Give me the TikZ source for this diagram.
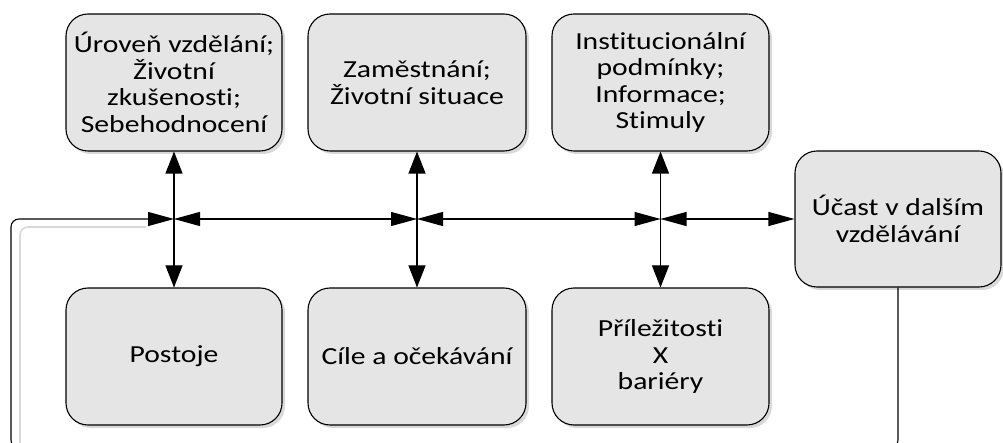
\documentclass[tikz,border=0pt]{standalone}
\usepackage{fontspec}
\setmainfont{Carlito}[FakeStretch=1.21, Ligatures=NoCommon]
\usetikzlibrary{arrows.meta,shadows}

\tikzset{
  card/.style={rectangle, draw=black, line width=1.1pt, fill=gray!20,
    rounded corners=22pt, align=center, inner sep=4pt,
    minimum width=216pt, minimum height=137pt,
    font=\fontsize{24.5}{26.5}\selectfont,
    drop shadow={shadow xshift=3pt, shadow yshift=-3pt, fill=black!25, opacity=.6},
    append after command={
      [draw=white, line width=1.6pt, rounded corners=19pt]
      ([shift={(3pt,-3pt)}]\tikzlastnode.north west) rectangle
      ([shift={(-3pt,3pt)}]\tikzlastnode.south east)
    }},
  link/.style={draw=black, line width=1.1pt},
  linkshadow/.style={draw=black!15, line width=1.4pt},
}

\begin{document}
\begin{tikzpicture}[x=1pt,y=-1pt]
\useasboundingbox (0,0) rectangle (1003,443);

% upper row: influencing factors
\node[card] (b1) at (174,82.5) {Úroveň vzdělání;\\Životní\\zkušenosti;\\Sebehodnocení};
\node[card, minimum width=218pt] (b2) at (417,82.5) {Zaměstnání;\\Životní situace};
\node[card, minimum width=217pt] (b3) at (660.5,82.5) {Institucionální\\podmínky;\\Informace;\\Stimuly};

% lower row
\node[card] (b4) at (174,356.5) {Postoje};
\node[card, minimum width=218pt] (b5) at (417,356.5) {Cíle a očekávání};
\node[card, minimum width=217pt] (b6) at (660.5,356.5) {Příležitosti\\X\\bariéry};

% outcome
\node[card, minimum width=206pt, minimum height=136pt] (b7) at (898,219) {Účast v dalším\\vzdělávání};

% junctions on the horizontal axis
\coordinate (j1) at (b1.south |- b7.west);
\coordinate (j2) at (b2.south |- b7.west);
\coordinate (j3) at (b3.south |- b7.west);
\coordinate (lb) at (11,448);

% light shadows of the connectors
\begin{scope}[shift={(3pt,-3pt)}]
  \draw[linkshadow] (b1.south) -- (b4.north);
  \draw[linkshadow] (b2.south) -- (b5.north);
  \draw[linkshadow] (b3.south) -- (b6.north);
  \draw[linkshadow] (j1) -- (j3);
  \draw[linkshadow] (j3) -- ([xshift=-3pt]b7.west);
\end{scope}
\draw[linkshadow, line width=1.6pt, rounded corners=8pt]
  ([xshift=9pt]lb) |- ([xshift=-28pt,yshift=-8pt]j1);

% vertical links
\draw[link, {Triangle[length=22pt,width=17pt]}-{Triangle[length=22pt,width=17pt]}] (b1.south) -- (b4.north);
\draw[link, {Triangle[length=22pt,width=17pt]}-{Triangle[length=22pt,width=17pt]}] (b2.south) -- (b5.north);
\draw[link, {Triangle[length=22pt,width=17pt]}-{Triangle[length=22pt,width=17pt]}] (b3.south) -- (b6.north);

% horizontal links
\draw[link, {Triangle[length=26pt,width=14pt]}-{Triangle[length=26pt,width=14pt]}] (j1) -- (j2);
\draw[link, {Triangle[length=26pt,width=14pt]}-{Triangle[length=26pt,width=14pt]}] (j2) -- (j3);
\draw[link, {Triangle[length=26pt,width=14pt]}-{Triangle[length=26pt,width=14pt]}] (j3) -- (b7.west);

% feedback loop
\draw[link, rounded corners=8pt, -{Triangle[length=26pt,width=14pt]}] (b7.south) |- (lb) |- (j1);
\end{tikzpicture}
\end{document}
